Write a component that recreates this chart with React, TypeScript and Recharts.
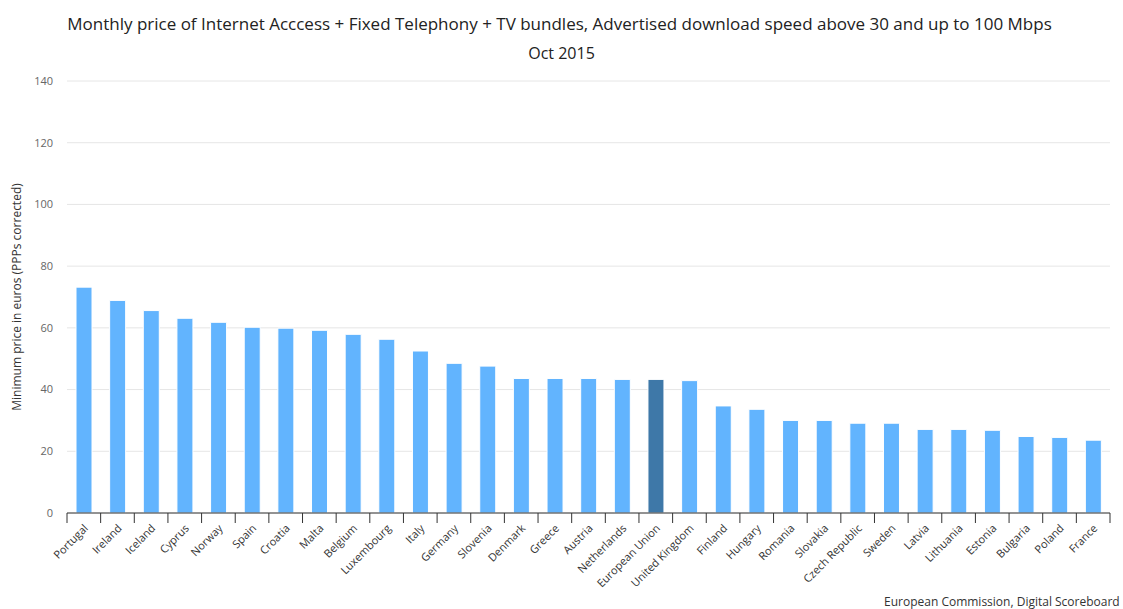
import React from "react";
import { BarChart, Bar, XAxis, YAxis, CartesianGrid, Cell } from "recharts";

const countries = [
  "Portugal", "Ireland", "Iceland", "Cyprus", "Norway", "Spain", "Croatia", "Malta",
  "Belgium", "Luxembourg", "Italy", "Germany", "Slovenia", "Denmark", "Greece", "Austria",
  "Netherlands", "European Union", "United Kingdom", "Finland", "Hungary", "Romania",
  "Slovakia", "Czech Republic", "Sweden", "Latvia", "Lithuania", "Estonia", "Bulgaria",
  "Poland", "France",
];
const prices = [
  73.2, 68.9, 65.6, 63.1, 61.8, 60.2, 59.9, 59.2,
  57.9, 56.3, 52.5, 48.5, 47.6, 43.6, 43.6, 43.6,
  43.3, 43.3, 42.9, 34.7, 33.6, 30.0,
  30.0, 29.1, 29.1, 27.1, 27.1, 26.8, 24.8,
  24.5, 23.6,
];
const yTicks = [0, 20, 40, 60, 80, 100, 120, 140];
const highlight = "European Union";

const data = countries.map((c, i) => ({ country: c, price: prices[i] }));

const W = 1123;
const H = 609;
const PLOT_LEFT = 67;
const PLOT_RIGHT = 1110;
const BAND = (PLOT_RIGHT - PLOT_LEFT) / countries.length;

const XTick = (props: any) => {
  const { x, y, payload, index } = props;
  const left = x - BAND / 2;
  const isLast = index === countries.length - 1;
  return (
    <g>
      <line x1={left} x2={left} y1={y - 8} y2={y + 2} stroke="#333" strokeWidth={1} />
      {isLast && (
        <line x1={x + BAND / 2} x2={x + BAND / 2} y1={y - 8} y2={y + 2} stroke="#333" strokeWidth={1} />
      )}
      <text
        x={x + 5}
        y={y + 8}
        textAnchor="end"
        fontSize={11}
        fill="#333"
        fontFamily="'Open Sans', sans-serif"
        transform={`rotate(-45 ${x + 5} ${y + 8})`}
      >
        {payload.value}
      </text>
    </g>
  );
};

export default function App() {
  return (
    <div style={{ position: "absolute", left: 0, top: 0, width: W, height: H, overflow: "hidden", background: "#fff", fontFamily: "'Open Sans', sans-serif" }}>
      <div style={{ position: "absolute", left: 0, width: W - 4, top: 12, textAlign: "center", fontSize: 17, color: "#222", whiteSpace: "nowrap" }}>
        Monthly price of Internet Acccess + Fixed Telephony + TV bundles, Advertised download speed above 30 and up to 100 Mbps
      </div>
      <div style={{ position: "absolute", left: 0, width: W, top: 42, textAlign: "center", fontSize: 16, color: "#222" }}>
        Oct 2015
      </div>
      <BarChart
        width={W}
        height={H}
        data={data}
        margin={{ top: 81, right: W - PLOT_RIGHT, bottom: 0, left: 0 }}
        barCategoryGap="0%"
      >
        <CartesianGrid vertical={false} stroke="#e6e6e6" />
        <XAxis
          dataKey="country"
          interval={0}
          height={96}
          tickLine={false}
          axisLine={{ stroke: "#333" }}
          tick={<XTick />}
        />
        <YAxis
          width={PLOT_LEFT}
          domain={[0, 140]}
          ticks={yTicks}
          axisLine={false}
          tickLine={false}
          tickSize={8}
          tickMargin={6}
          tick={{ fontSize: 11, fill: "#666", fontFamily: "'Open Sans', sans-serif" }}
          label={{
            value: "Minimum price in euros (PPPs corrected)",
            angle: -90,
            position: "insideLeft",
            dx: 12,
            style: { textAnchor: "middle", fontSize: 12, fill: "#333", fontFamily: "'Open Sans', sans-serif" },
          }}
        />
        <Bar dataKey="price" barSize={16} isAnimationActive={false} stroke="#ffffff" strokeWidth={1}>
          {data.map((d) => (
            <Cell key={d.country} fill={d.country === highlight ? "#3e78a8" : "#62b4fe"} />
          ))}
        </Bar>
      </BarChart>
      <div style={{ position: "absolute", left: 884, top: 593, fontSize: 12, color: "#333", whiteSpace: "nowrap" }}>
        European Commission, Digital Scoreboard
      </div>
    </div>
  );
}
